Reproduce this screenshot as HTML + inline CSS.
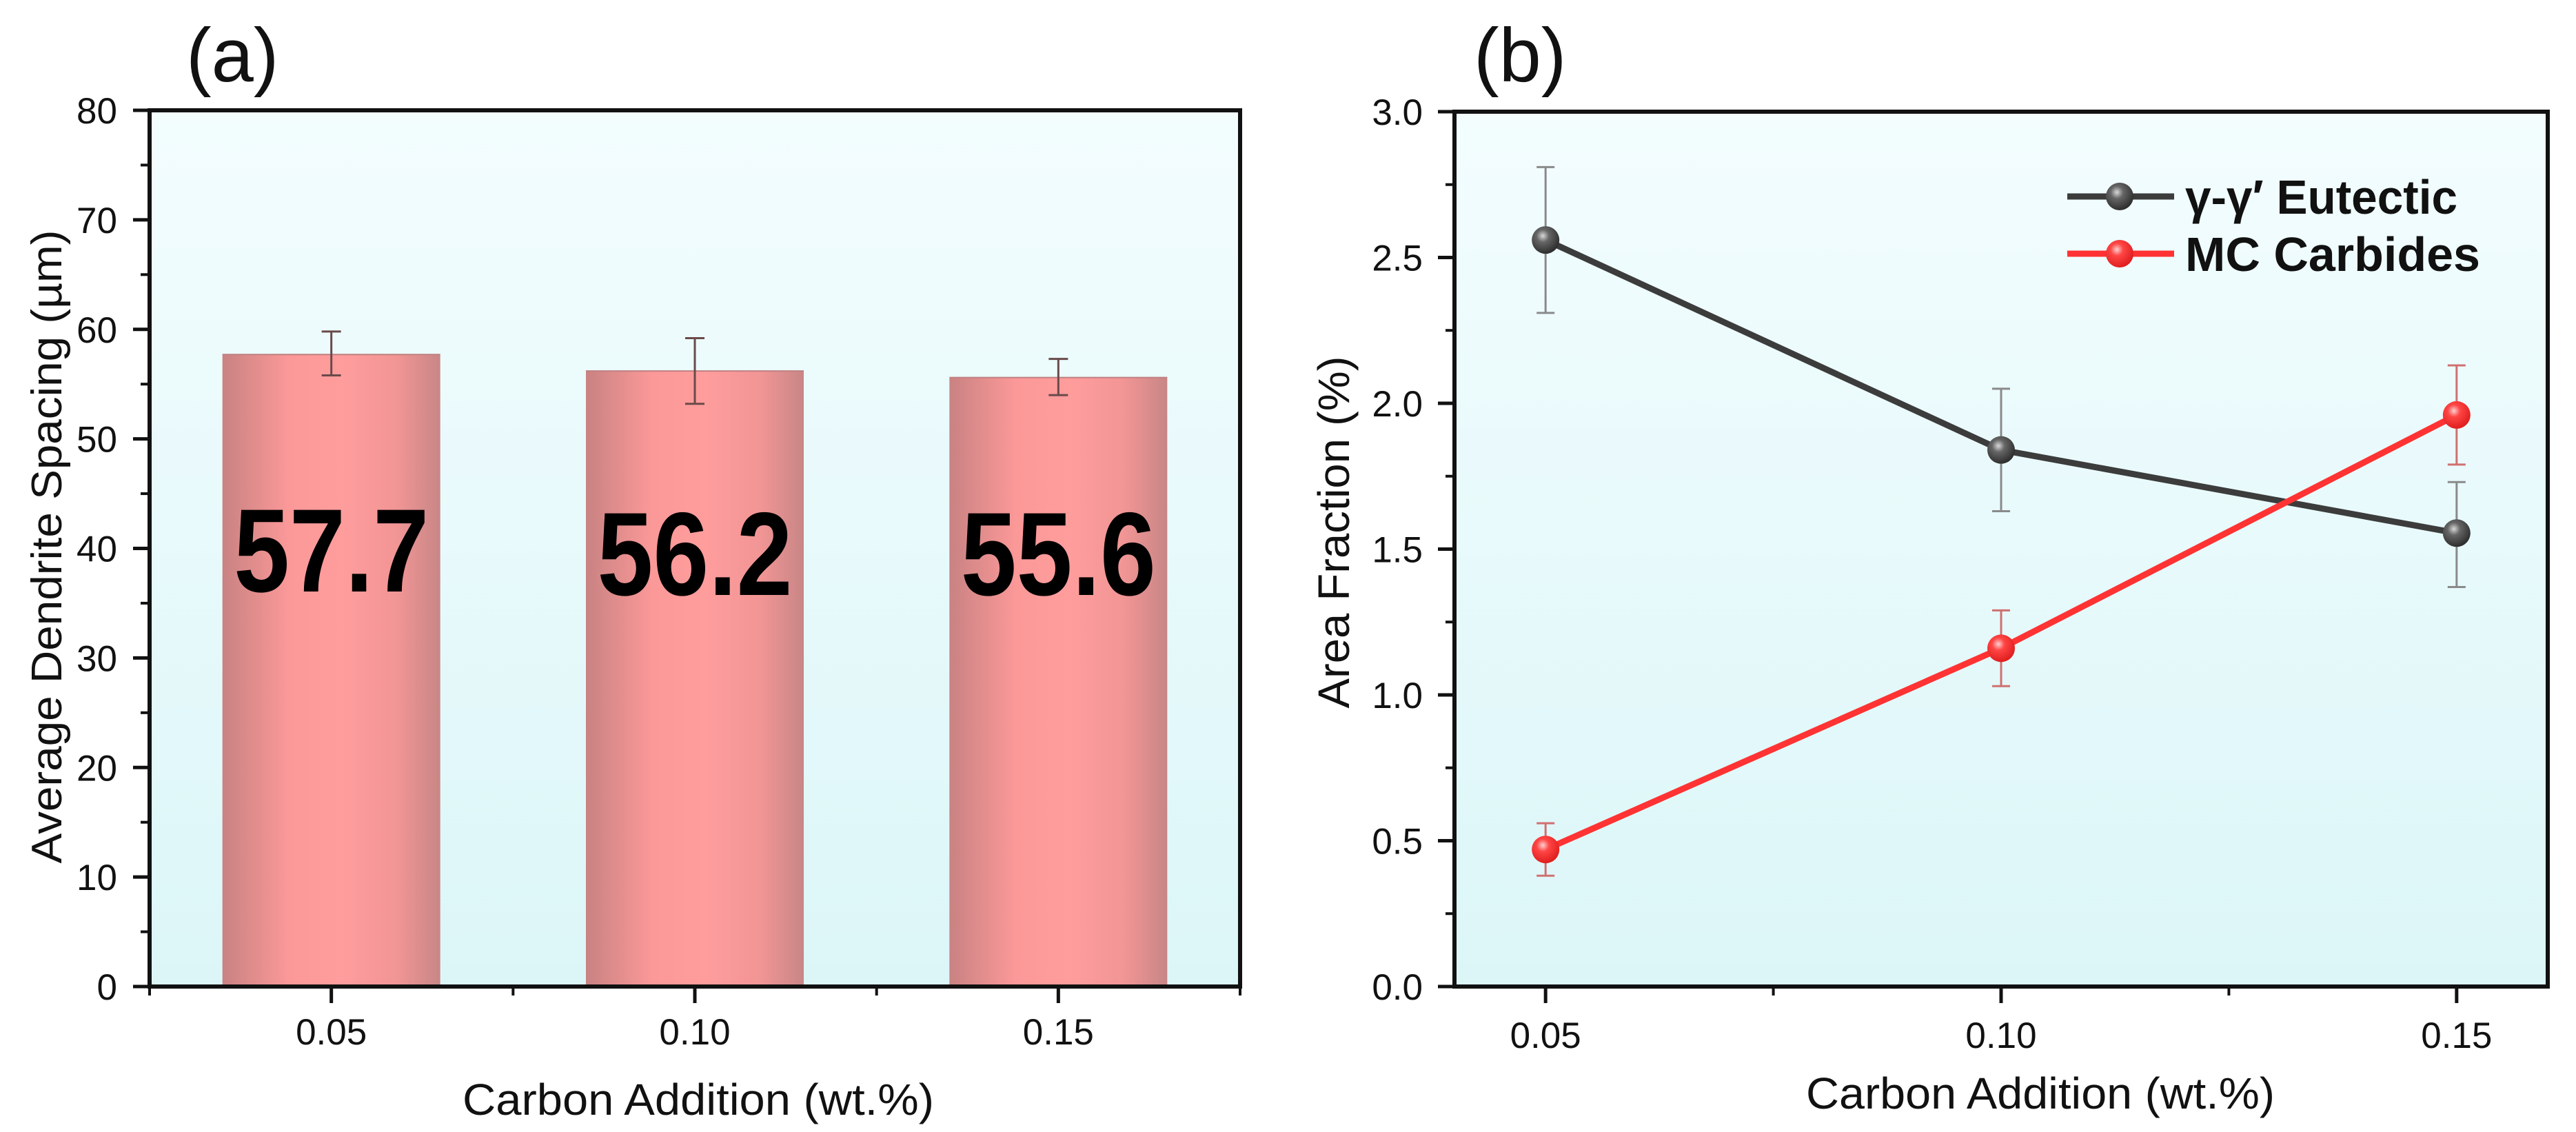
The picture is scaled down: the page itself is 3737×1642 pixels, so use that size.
<!DOCTYPE html>
<html><head><meta charset="utf-8"><style>
html,body{margin:0;padding:0;background:#fff;}
svg{display:block;}
text{font-family:"Liberation Sans",Arial,sans-serif;}
</style></head><body>
<svg id="fig" width="3737" height="1642" viewBox="0 0 3737 1642" xmlns="http://www.w3.org/2000/svg">
<defs>
<linearGradient id="bg" x1="0" y1="0" x2="0" y2="1"><stop offset="0" stop-color="#f3fdfe"/><stop offset="1" stop-color="#dcf6f8"/></linearGradient>
<linearGradient id="bar" x1="0" y1="0" x2="1" y2="0"><stop offset="0" stop-color="#c98282"/><stop offset="0.3" stop-color="#fb9898"/><stop offset="0.55" stop-color="#ff9d9d"/><stop offset="0.8" stop-color="#f29595"/><stop offset="1" stop-color="#c88686"/></linearGradient>
<radialGradient id="mk0" cx="0.4" cy="0.35" r="0.65"><stop offset="0" stop-color="#d8d8d8"/><stop offset="0.35" stop-color="#666"/><stop offset="1" stop-color="#2e2e2e"/></radialGradient>
<radialGradient id="mk1" cx="0.4" cy="0.35" r="0.65"><stop offset="0" stop-color="#ffd0d0"/><stop offset="0.35" stop-color="#ff4545"/><stop offset="1" stop-color="#e01e1e"/></radialGradient>
</defs>
<g id="pa"></g>
<g id="pb"></g>
</svg>
<script>
// Panel (a) data
const catsA = ["0.05", "0.10", "0.15"];
const xValsA = [0.05, 0.10, 0.15];
const barVals = [57.7, 56.2, 55.6];
const barErrLo = [55.8, 53.2, 54.0];
const barErrHi = [59.8, 59.2, 57.3];
const barLabels = ["57.7", "56.2", "55.6"];
const yTicksA = [0, 10, 20, 30, 40, 50, 60, 70, 80];
// Panel (b) data
const xValsB = [0.05, 0.10, 0.15];
const eutVals = [2.56, 1.84, 1.555];
const eutLo = [2.31, 1.63, 1.37];
const eutHi = [2.81, 2.05, 1.73];
const mcVals = [0.47, 1.16, 1.96];
const mcLo = [0.38, 1.03, 1.79];
const mcHi = [0.56, 1.29, 2.13];
const yTicksB = ["0.0", "0.5", "1.0", "1.5", "2.0", "2.5", "3.0"];
const xTickLabelsB = ["0.05", "0.10", "0.15"];

const NS = "http://www.w3.org/2000/svg";
function el(parent, tag, attrs, txt) {
  const e = document.createElementNS(NS, tag);
  for (const k in attrs) e.setAttribute(k, attrs[k]);
  if (txt !== undefined) e.textContent = txt;
  parent.appendChild(e);
  return e;
}

// ---------- Panel A ----------
const pa = document.getElementById("pa");
const A = {l: 217, r: 1799, t: 160, b: 1431};
const xA = v => A.l + (v - 0.025) / 0.15 * (A.r - A.l);
const yA = v => A.b - v / 80 * (A.b - A.t);
let bgA = el(pa, "rect", {x: A.l, y: A.t, width: A.r - A.l, height: A.b - A.t, fill: "url(#bg)"});


const bw = 316;
for (let i = 0; i < barVals.length; i++) {
  const cx = xA(xValsA[i]);
  const r = el(pa, "rect", {x: cx - bw / 2, y: yA(barVals[i]), width: bw, height: yA(0) - yA(barVals[i]), fill: "url(#bar)"});
  
  
  el(pa, "line", {x1: cx - bw / 2, x2: cx + bw / 2, y1: yA(barVals[i]), y2: yA(barVals[i]), stroke: "#c08080", "stroke-width": 2});
  const eb = el(pa, "path", {d: `M${cx},${yA(barErrLo[i])}V${yA(barErrHi[i])}M${cx - 14},${yA(barErrLo[i])}h28M${cx - 14},${yA(barErrHi[i])}h28`, stroke: "#6a4a4a", "stroke-width": 3, fill: "none"});
  
  
  const t = el(pa, "text", {x: cx, y: 858 + (i > 0 ? 5 : 0), "text-anchor": "middle", "font-size": 172, "font-weight": "bold", textLength: 283, lengthAdjust: "spacingAndGlyphs", fill: "#000"}, barLabels[i]);
  
  
}
el(pa, "rect", {x: A.l, y: A.t, width: A.r - A.l, height: A.b - A.t, fill: "none", stroke: "#111", "stroke-width": 6});
for (let i = 0; i < yTicksA.length; i++) {
  const y = yA(yTicksA[i]);
  el(pa, "line", {x1: A.l - 24, x2: A.l, y1: y, y2: y, stroke: "#111", "stroke-width": 5});
  const t = el(pa, "text", {x: 170, y: y + 19, "text-anchor": "end", "font-size": 53, fill: "#111"}, String(yTicksA[i]));
  
  
  if (i < yTicksA.length - 1) {
    const ym = yA(yTicksA[i] + 5);
    el(pa, "line", {x1: A.l - 13, x2: A.l, y1: ym, y2: ym, stroke: "#111", "stroke-width": 4});
  }
}
for (let i = 0; i < xValsA.length; i++) {
  const x = xA(xValsA[i]);
  el(pa, "line", {x1: x, x2: x, y1: A.b, y2: A.b + 24, stroke: "#111", "stroke-width": 5});
  const t = el(pa, "text", {x: x, y: 1515, "text-anchor": "middle", "font-size": 53, fill: "#111"}, catsA[i]);
  
  
}
[0.025, 0.075, 0.125, 0.175].forEach(v => el(pa, "line", {x1: xA(v), x2: xA(v), y1: A.b, y2: A.b + 13, stroke: "#111", "stroke-width": 4}));
let ta = el(pa, "text", {x: 1013, y: 1617, "text-anchor": "middle", "font-size": 64, textLength: 684, lengthAdjust: "spacingAndGlyphs", fill: "#111"}, "Carbon Addition (wt.%)");


let ya = el(pa, "text", {x: 0, y: 0, transform: "translate(89,793) rotate(-90)", "text-anchor": "middle", "font-size": 62, textLength: 919, lengthAdjust: "spacingAndGlyphs", fill: "#111"}, "Average Dendrite Spacing (µm)");


let la = el(pa, "text", {x: 270, y: 118, "font-size": 110, fill: "#111"}, "(a)");



// ---------- Panel B ----------
const pb = document.getElementById("pb");
const B = {l: 2110, r: 3696, t: 162, b: 1431};
const xB = v => B.l + (v - 0.04) / 0.12 * (B.r - B.l);
const yB = v => B.b - v / 3 * (B.b - B.t);
let bgB = el(pb, "rect", {x: B.l, y: B.t, width: B.r - B.l, height: B.b - B.t, fill: "url(#bg)"});


function series(vals, lo, hi, color, errColor, grad, name) {
  const g = el(pb, "g", {});
  
  
  for (let i = 0; i < vals.length; i++) {
    const x = xB(xValsB[i]);
    el(g, "path", {d: `M${x},${yB(lo[i])}V${yB(hi[i])}M${x - 13},${yB(lo[i])}h26M${x - 13},${yB(hi[i])}h26`, stroke: errColor, "stroke-width": 3, fill: "none"});
  }
  const pts = vals.map((v, i) => xB(xValsB[i]) + "," + yB(v)).join(" ");
  const pl = el(g, "polyline", {points: pts, fill: "none", stroke: color, "stroke-width": 9});
  
  
  for (let i = 0; i < vals.length; i++) {
    const c = el(g, "circle", {cx: xB(xValsB[i]), cy: yB(vals[i]), r: 20, fill: grad});
    
    
  }
}
series(eutVals, eutLo, eutHi, "#3c3c3c", "#8a8a8a", "url(#mk0)", "eutectic");
series(mcVals, mcLo, mcHi, "#ff3333", "#d07070", "url(#mk1)", "mc-carbides");
el(pb, "rect", {x: B.l, y: B.t, width: B.r - B.l, height: B.b - B.t, fill: "none", stroke: "#111", "stroke-width": 6});
for (let i = 0; i < yTicksB.length; i++) {
  const v = parseFloat(yTicksB[i]);
  const y = yB(v);
  el(pb, "line", {x1: B.l - 24, x2: B.l, y1: y, y2: y, stroke: "#111", "stroke-width": 5});
  const t = el(pb, "text", {x: 2064, y: y + 19, "text-anchor": "end", "font-size": 53, fill: "#111"}, yTicksB[i]);
  
  
  if (i < yTicksB.length - 1) {
    const ym = yB(v + 0.25);
    el(pb, "line", {x1: B.l - 13, x2: B.l, y1: ym, y2: ym, stroke: "#111", "stroke-width": 4});
  }
}
for (let i = 0; i < xValsB.length; i++) {
  const x = xB(xValsB[i]);
  el(pb, "line", {x1: x, x2: x, y1: B.b, y2: B.b + 24, stroke: "#111", "stroke-width": 5});
  const t = el(pb, "text", {x: x, y: 1520, "text-anchor": "middle", "font-size": 53, fill: "#111"}, xTickLabelsB[i]);
  
  
}
[0.075, 0.125].forEach(v => el(pb, "line", {x1: xB(v), x2: xB(v), y1: B.b, y2: B.b + 13, stroke: "#111", "stroke-width": 4}));
let tb = el(pb, "text", {x: 2960, y: 1608, "text-anchor": "middle", "font-size": 64, textLength: 680, lengthAdjust: "spacingAndGlyphs", fill: "#111"}, "Carbon Addition (wt.%)");


let yb = el(pb, "text", {x: 0, y: 0, transform: "translate(1957,772) rotate(-90)", "text-anchor": "middle", "font-size": 64, textLength: 511, lengthAdjust: "spacingAndGlyphs", fill: "#111"}, "Area Fraction (%)");


let lb = el(pb, "text", {x: 2138, y: 118, "font-size": 110, fill: "#111"}, "(b)");


// legend
const leg = el(pb, "g", {});


[["γ-γ′ Eutectic", "#3c3c3c", "url(#mk0)", 285, 395], ["MC Carbides", "#ff3333", "url(#mk1)", 368, 428]].forEach(d => {
  const g = el(leg, "g", {});
  
  
  el(g, "line", {x1: 2999, x2: 3154, y1: d[3], y2: d[3], stroke: d[1], "stroke-width": 9});
  el(g, "circle", {cx: 3075, cy: d[3], r: 20, fill: d[2]});
  el(g, "text", {x: 3170, y: d[3] + 25, "font-size": 70, "font-weight": "bold", textLength: d[4], lengthAdjust: "spacingAndGlyphs", fill: "#111"}, d[0]);
});
</script>
</body></html>
